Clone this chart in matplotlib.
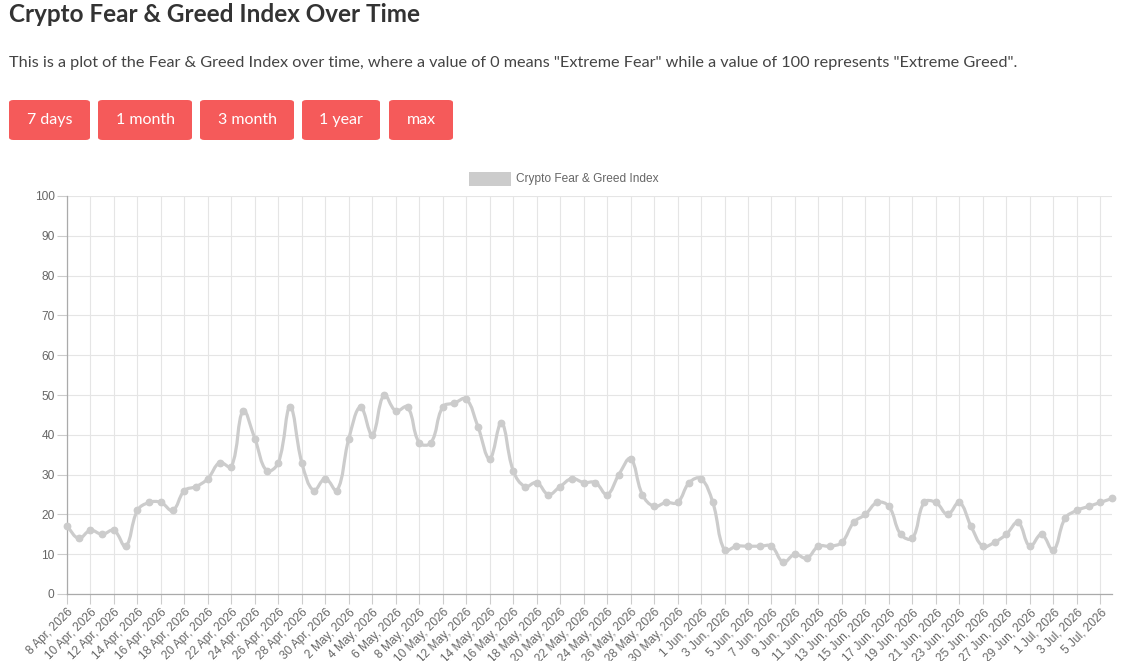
import numpy as np
import matplotlib
matplotlib.use("Agg")
import matplotlib.pyplot as plt
from matplotlib.path import Path
from matplotlib.patches import PathPatch, FancyBboxPatch, Rectangle
import datetime as dt

# daily index values, 8 Apr 2026 .. 6 Jul 2026
values = [
    17, 14, 16, 15, 16, 12, 21, 23, 23, 21, 26, 27, 29, 33, 32, 46, 39, 31, 33, 47, 33, 26, 29,   # Apr 8-30
    26, 39, 47, 40, 50, 46, 47, 38, 38, 47, 48, 49, 42, 34, 43, 31, 27, 28, 25, 27, 29, 28, 28,   # May 1-23
    25, 30, 34, 25, 22, 23, 23, 28,                                                               # May 24-31
    29, 23, 11, 12, 12, 12, 12, 8, 10, 9, 12, 12, 13, 18, 20, 23, 22, 15, 14, 23, 23, 20, 23,     # Jun 1-23
    17, 12, 13, 15, 18, 12, 15,                                                                   # Jun 24-30
    11, 19, 21, 22, 23, 24,                                                                       # Jul 1-6
]
start = dt.date(2026, 4, 8)
dates = [start + dt.timedelta(days=i) for i in range(len(values))]
labels = [f"{d.day} {d.strftime('%b')}, {d.year}" for d in dates]

series_name = "Crypto Fear & Greed Index"
buttons = ["7 days", "1 month", "3 month", "1 year", "max"]

W, H = 1133, 661
fig = plt.figure(figsize=(W / 100, H / 100), dpi=100)

def fx(px):
    return px / W

def fy(py):
    return 1 - py / H

# page header
fig.text(fx(9), fy(15), "Crypto Fear & Greed Index Over Time", fontsize=17.5, fontweight="bold",
         color="#333333", family=["Lato", "DejaVu Sans"], va="center", ha="left")
fig.text(fx(9), fy(63), 'This is a plot of the Fear & Greed Index over time, where a value of 0 means '
         '"Extreme Fear" while a value of 100 represents "Extreme Greed".',
         fontsize=11.7, color="#444444", family=["Lato", "DejaVu Sans"], va="center", ha="left")

btn_x = [(9, 90), (98, 192), (200, 294), (302, 380), (389, 453)]
for (x0, x1), txt in zip(btn_x, buttons):
    fig.patches.append(FancyBboxPatch((fx(x0), fy(140)), fx(x1 - x0), (140 - 100) / H,
                                      boxstyle="round,pad=0,rounding_size=0.004",
                                      transform=fig.transFigure, facecolor="#f55a5a",
                                      edgecolor="none"))
    fig.text(fx((x0 + x1) / 2), fy(120), txt, fontsize=11.5, color="white",
             family=["Lato", "DejaVu Sans"], ha="center", va="center")

# chart area
ax = fig.add_axes([fx(67), fy(594), fx(1112 - 67), (594 - 196) / H])
x = np.arange(len(values))
ax.set_xlim(0, len(values) - 1)
ax.set_ylim(0, 100)

# Chart.js style spline (tension 0.4) in pixel space
fig.canvas.draw()
pts = ax.transData.transform(np.column_stack([x, values]))
t = 0.4
verts = [pts[0]]
codes = [Path.MOVETO]
cps = []
for i in range(len(pts)):
    prev = pts[i - 1] if i > 0 else pts[i]
    cur = pts[i]
    nxt = pts[i + 1] if i < len(pts) - 1 else pts[i]
    d01 = np.hypot(*(cur - prev))
    d12 = np.hypot(*(nxt - cur))
    tot = d01 + d12
    s01 = d01 / tot if tot else 0
    s12 = d12 / tot if tot else 0
    cp_prev = cur - t * s01 * (nxt - prev)
    cp_next = cur + t * s12 * (nxt - prev)
    cps.append((cp_prev, cp_next))
for i in range(1, len(pts)):
    verts += [cps[i - 1][1], cps[i][0], pts[i]]
    codes += [Path.CURVE4] * 3
inv = ax.transData.inverted()
path = Path(inv.transform(np.array(verts)), codes)
ax.add_patch(PathPatch(path, facecolor="none", edgecolor="#cccccc", lw=2.3, zorder=3,
                       clip_on=False, capstyle="round", joinstyle="round"))
ax.plot(x, values, linestyle="none", marker="o", markersize=4.6, color="#cccccc", zorder=4,
        clip_on=False)

# axes styling
ax.set_yticks(range(0, 101, 10))
ax.set_xticks(x[::2])
ax.set_xticklabels(labels[::2], rotation=45, ha="right", va="top", rotation_mode="anchor")
ax.tick_params(axis="both", colors="#cccccc", labelcolor="#666666", labelsize=8.6, length=7,
               width=0.8, pad=2)
for lab in ax.get_xticklabels() + ax.get_yticklabels():
    lab.set_family(["Liberation Sans", "DejaVu Sans"])
ax.grid(True, color="#e5e5e5", linewidth=0.8)
ax.set_axisbelow(True)
for side in ["top", "right"]:
    ax.spines[side].set_visible(False)
for side in ["left", "bottom"]:
    ax.spines[side].set_color("#aaaaaa")
    ax.spines[side].set_linewidth(0.9)
ax.set_ylabel("Value", fontsize=8.6, color="#666666", family=["Liberation Sans", "DejaVu Sans"],
              labelpad=22)

# legend like Chart.js
fig.patches.append(Rectangle((fx(469), fy(186)), fx(511 - 469), (186 - 172) / H,
                             transform=fig.transFigure, facecolor="#cccccc", edgecolor="none"))
fig.text(fx(516), fy(179), series_name, fontsize=8.6, color="#666666",
         family=["Liberation Sans", "DejaVu Sans"], ha="left", va="center")

fig.savefig("out.png", dpi=100)
